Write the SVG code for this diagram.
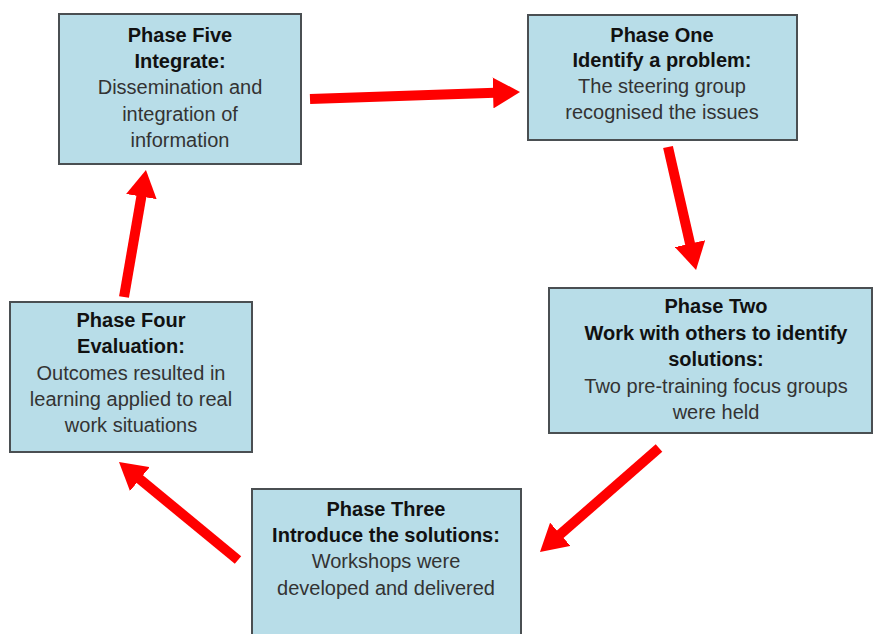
<svg xmlns="http://www.w3.org/2000/svg" width="874" height="634" viewBox="0 0 874 634">
<style>
.box{fill:#b8dde8;stroke:#4a4f52;stroke-width:2}
text{font-family:"Liberation Sans",Arial,sans-serif;font-size:20px;text-anchor:middle;fill:#333}
.t{font-weight:bold;fill:#111}
.arr{stroke:#ff0000;stroke-width:10;fill:none;marker-end:url(#ah)}
</style>
<defs>
<marker id="ah" viewBox="0 0 27 31" refX="2" refY="15.5" markerWidth="27" markerHeight="31" markerUnits="userSpaceOnUse" orient="auto">
<path d="M0,0 L27,15.5 L0,31 Z" fill="#ff0000"/>
</marker>
</defs>
<rect width="874" height="634" fill="#ffffff"/>
<g id="connectors">
<line class="arr" x1="310" y1="99" x2="495" y2="92.8"/>
<line class="arr" x1="668" y1="147" x2="690.5" y2="245.6"/>
<line class="arr" x1="659" y1="448" x2="558.8" y2="535.6"/>
<line class="arr" x1="238" y1="560" x2="138.3" y2="477.9"/>
<line class="arr" x1="124" y1="297" x2="141.7" y2="194.6"/>
</g>
<g id="phase-five">
<rect class="box" x="59" y="14" width="242" height="150"/>
<text class="t" x="180" y="42">Phase Five</text>
<text class="t" x="180" y="68">Integrate:</text>
<text x="180" y="94">Dissemination and</text>
<text x="180" y="121">integration of</text>
<text x="180" y="147">information</text>
</g>
<g id="phase-one">
<rect class="box" x="528" y="15" width="269" height="125"/>
<text class="t" x="662" y="42">Phase One</text>
<text class="t" x="662" y="67">Identify a problem:</text>
<text x="662" y="93">The steering group</text>
<text x="662" y="119">recognised the issues</text>
</g>
<g id="phase-two">
<rect class="box" x="549" y="288" width="323" height="145"/>
<text class="t" x="716" y="313">Phase Two</text>
<text class="t" x="716" y="340">Work with others to identify</text>
<text class="t" x="716" y="366">solutions:</text>
<text x="716" y="393">Two pre-training focus groups</text>
<text x="716" y="419">were held</text>
</g>
<g id="phase-three">
<rect class="box" x="252" y="489" width="269" height="160"/>
<text class="t" x="386" y="516">Phase Three</text>
<text class="t" x="386" y="542">Introduce the solutions:</text>
<text x="386" y="568">Workshops were</text>
<text x="386" y="595">developed and delivered</text>
</g>
<g id="phase-four">
<rect class="box" x="10" y="302" width="242" height="150"/>
<text class="t" x="131" y="327">Phase Four</text>
<text class="t" x="131" y="353">Evaluation:</text>
<text x="131" y="380">Outcomes resulted in</text>
<text x="131" y="406">learning applied to real</text>
<text x="131" y="432">work situations</text>
</g>
</svg>
